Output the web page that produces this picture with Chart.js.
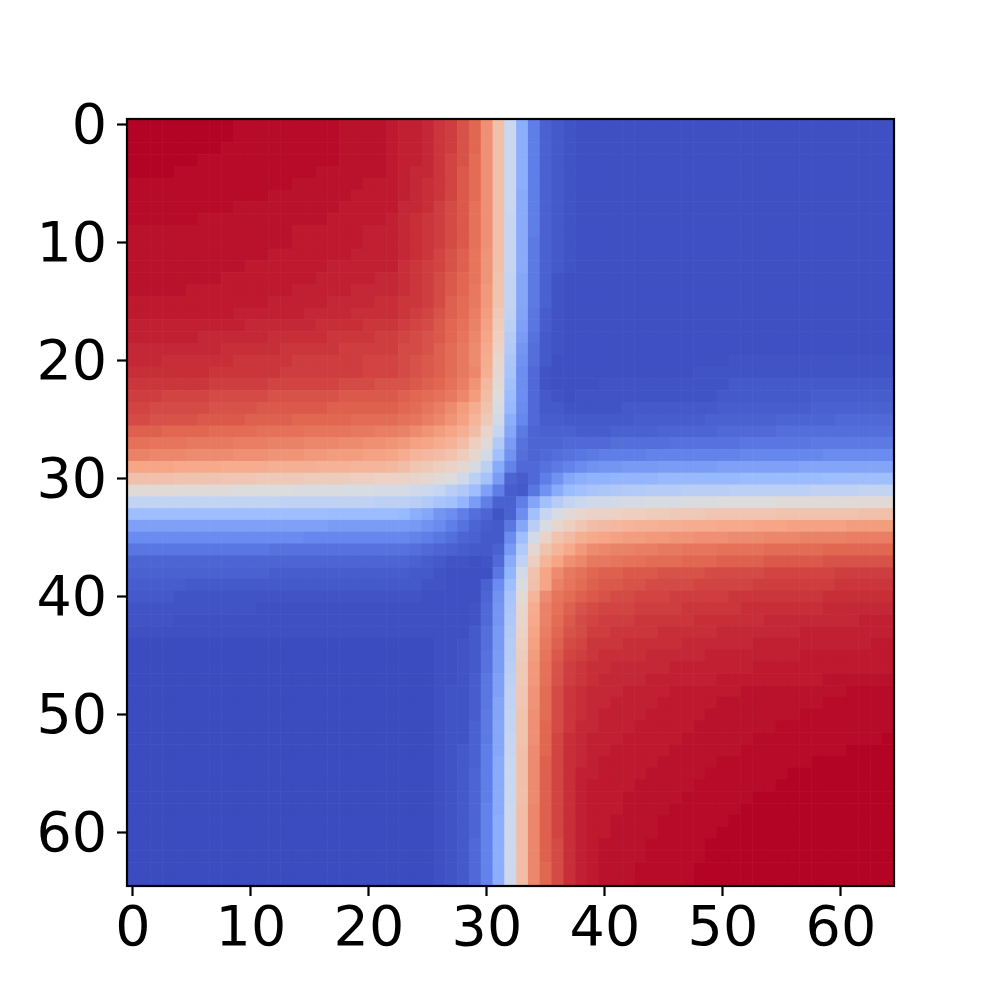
<!DOCTYPE html>
<html>
<head>
<meta charset="utf-8">
<title>Heatmap</title>
<script src="https://cdn.jsdelivr.net/npm/chart.js@4/dist/chart.umd.min.js"></script>
<style>
  html, body { margin: 0; padding: 0; background: #ffffff; }
  canvas { display: block; }
</style>
</head>
<body>
<canvas id="heatmap" width="996" height="996"></canvas>
<script>
// tick positions for both axes
const tickValues = [0, 10, 20, 30, 40, 50, 60];

// cell values, 0 = coldest, 100 = hottest. one line per row
const cellRows = [
[100,100,100,100,100,100,100,100,100,99,99,99,99,99,99,99,99,99,98,98,98,98,97,96,96,95,93,92,89,86,77,63,43,25,12,5,3,2,1,1,1,1,1,1,1,1,1,1,1,1,1,1,1,1,1,1,1,1,1,1,1,1,1,1,1],
[100,100,100,100,100,100,100,100,100,99,99,99,99,99,99,99,99,99,98,98,98,98,97,96,96,95,93,92,89,86,77,63,43,25,12,5,3,2,1,1,1,1,1,1,1,1,1,1,1,1,1,1,1,1,1,1,1,1,1,1,1,1,1,1,1],
[100,100,100,100,100,100,100,100,99,99,99,99,99,99,99,99,99,99,98,98,98,98,97,96,96,95,93,92,89,86,77,63,43,25,12,5,3,2,1,1,1,1,1,1,1,1,1,1,1,1,1,1,1,1,1,1,1,1,1,1,1,1,1,1,1],
[100,100,100,100,100,100,99,99,99,99,99,99,99,99,99,99,99,99,98,98,98,98,97,96,96,95,93,91,89,85,77,63,43,25,12,5,3,2,1,1,1,1,1,1,1,1,1,1,1,1,1,1,1,1,1,1,1,1,1,1,1,1,1,1,1],
[100,100,100,100,99,99,99,99,99,99,99,99,99,99,99,99,98,98,98,98,98,98,97,96,95,95,93,91,88,85,77,63,43,25,12,5,3,2,1,1,1,1,1,1,1,1,1,1,1,1,1,1,1,1,1,1,1,1,1,1,1,1,1,1,1],
[99,99,99,99,99,99,99,99,99,99,99,99,99,99,98,98,98,98,98,98,97,97,97,96,95,94,93,91,88,85,77,63,43,25,12,5,3,2,1,1,1,1,1,1,1,1,1,1,1,1,1,1,1,1,1,1,1,1,1,1,1,1,1,1,1],
[99,99,99,99,99,99,99,99,99,99,99,99,98,98,98,98,98,98,98,97,97,97,97,96,95,94,93,91,88,85,77,63,43,24,12,5,3,2,1,1,1,1,1,1,1,1,1,1,1,1,1,1,1,1,1,1,1,1,1,1,1,1,1,1,1],
[99,99,99,99,99,99,99,99,99,98,98,98,98,98,98,98,98,98,97,97,97,97,97,95,95,94,92,90,88,84,77,63,43,24,12,5,3,2,1,1,1,1,1,1,1,1,1,1,1,1,1,1,1,1,1,1,1,1,1,1,1,1,1,1,1],
[99,99,99,99,99,99,98,98,98,98,98,98,98,98,98,98,98,97,97,97,97,97,96,95,94,93,92,90,88,84,77,63,42,24,12,5,3,2,1,1,1,1,1,1,1,1,1,1,1,1,1,1,1,1,1,1,1,1,1,1,1,1,1,1,1],
[98,98,98,98,98,98,98,98,98,98,98,98,98,98,97,97,97,97,97,97,96,96,96,95,94,93,92,90,88,84,77,63,42,24,12,5,3,2,1,1,1,1,1,1,1,1,1,1,1,1,1,1,1,1,1,1,1,1,1,1,1,1,1,1,1],
[98,98,98,98,98,98,98,98,98,98,98,98,98,98,97,97,97,97,97,97,96,96,96,95,94,93,92,90,88,84,77,63,42,24,11,5,3,2,1,1,1,1,1,1,1,1,1,1,1,1,1,1,1,1,1,1,1,1,1,1,1,1,1,1,1],
[98,98,98,98,98,98,98,98,98,98,98,98,97,97,97,97,97,97,97,96,96,96,96,95,94,93,91,89,87,83,76,63,42,24,11,5,3,2,1,1,1,1,1,1,1,1,1,1,1,1,1,1,1,1,1,1,1,1,1,1,1,1,1,1,1],
[98,98,98,98,98,98,98,98,98,98,97,97,97,97,97,97,97,96,96,96,96,96,96,94,93,92,91,89,87,83,76,63,42,24,11,5,3,2,1,1,1,1,1,1,1,1,1,1,1,1,1,1,1,1,1,1,1,1,1,1,1,1,1,1,1],
[98,98,98,98,98,98,98,98,97,97,97,97,97,97,97,97,96,96,96,96,96,95,95,94,93,92,90,88,86,83,76,62,41,23,11,5,2,1,1,1,1,1,1,1,1,1,1,1,1,1,1,1,1,1,1,1,1,1,1,1,1,1,1,1,1],
[98,98,98,98,98,97,97,97,97,97,97,97,97,97,96,96,96,96,96,95,95,95,95,94,93,92,90,88,86,82,75,62,41,23,11,5,2,1,1,1,1,1,1,1,1,1,1,1,1,1,1,1,1,1,1,1,1,1,1,1,1,1,1,1,1],
[97,97,97,97,97,97,97,97,97,97,97,97,96,96,96,96,96,95,95,95,95,94,94,93,93,92,90,87,85,82,75,62,41,23,11,5,2,1,1,1,1,1,1,1,1,1,1,1,1,1,1,1,1,1,1,1,1,1,1,1,1,1,1,1,1],
[97,97,97,97,97,97,97,97,97,96,96,96,96,96,96,95,95,95,95,94,94,94,94,93,92,91,89,87,85,81,74,60,40,22,10,4,2,1,1,1,1,1,1,1,1,1,1,1,1,1,1,1,1,1,1,1,1,1,1,1,1,1,1,1,1],
[96,96,96,96,96,96,96,96,96,96,95,95,95,95,95,95,94,94,94,94,93,93,93,92,91,90,88,86,84,80,73,59,39,21,10,4,2,1,1,1,1,1,1,1,1,1,1,1,1,1,1,1,1,1,1,1,1,1,1,1,1,1,1,1,1],
[96,96,96,96,96,96,95,95,95,95,95,95,94,94,94,94,94,93,93,93,93,92,92,91,90,89,88,86,83,79,72,58,37,20,9,3,2,1,1,1,1,1,1,1,1,1,1,1,1,1,1,1,1,1,1,1,1,1,1,1,1,1,1,1,1],
[95,95,95,95,95,95,95,95,94,94,94,94,94,93,93,93,93,93,92,92,92,92,92,90,90,89,87,85,82,78,71,56,36,18,8,3,2,1,1,1,1,1,1,1,1,1,1,1,1,1,1,1,1,1,1,1,1,1,1,1,1,1,1,1,1],
[95,95,95,94,94,94,94,94,94,93,93,93,93,93,92,92,92,92,92,92,91,91,91,90,89,88,87,85,82,78,70,54,34,17,8,3,1,1,1,1,1,1,1,1,1,1,1,1,1,1,1,2,2,2,2,2,2,2,2,2,2,2,2,2,2],
[94,94,94,94,94,94,94,93,93,93,93,93,93,92,92,92,92,92,92,92,91,91,91,90,89,88,87,85,82,79,69,53,33,16,7,2,1,1,1,1,1,1,1,1,1,1,1,1,2,2,2,2,2,2,2,2,2,2,2,2,2,2,2,2,2],
[93,93,93,93,93,93,93,92,92,92,92,92,91,91,91,91,91,91,90,90,90,89,89,89,88,87,86,84,81,76,66,52,31,16,7,2,1,1,1,1,2,2,2,2,2,2,2,2,2,2,2,3,3,3,3,3,3,3,3,3,3,3,3,3,3],
[92,92,92,91,91,91,91,90,90,90,90,90,89,89,89,89,89,89,88,88,88,88,88,87,86,85,84,82,79,74,64,50,29,16,7,3,2,1,2,2,2,2,2,2,2,2,2,2,2,2,3,3,3,3,3,3,3,3,4,4,4,4,4,4,4],
[91,91,90,90,90,90,90,89,89,89,89,88,88,88,88,88,88,87,87,87,87,87,87,86,85,83,81,78,74,70,62,48,28,15,7,3,3,2,2,2,2,2,3,3,3,3,3,3,3,3,4,4,4,4,4,4,4,4,5,5,5,5,5,5,5],
[90,90,89,89,89,89,88,88,88,88,87,87,87,87,86,86,86,86,86,85,85,85,85,84,83,81,79,76,73,67,60,46,25,14,7,4,4,3,3,3,3,3,3,4,4,4,4,4,4,5,5,5,5,5,5,6,6,6,6,6,7,7,7,7,7],
[87,87,87,86,86,86,86,85,85,85,85,84,84,84,84,83,83,83,83,82,82,81,81,80,78,76,74,72,69,64,55,42,23,11,6,5,5,5,4,4,4,5,5,5,5,6,6,6,6,6,7,7,7,7,7,8,8,8,8,8,8,8,8,8,8],
[84,84,83,83,83,82,82,82,82,81,81,81,80,80,80,79,79,79,78,78,77,77,76,75,73,72,70,68,64,58,51,36,20,9,6,6,6,7,7,7,7,8,8,8,8,8,9,9,9,9,9,9,10,10,10,10,10,10,11,11,11,11,11,11,11],
[80,80,79,79,79,78,78,78,78,77,77,77,76,76,76,75,75,74,74,74,73,73,72,70,67,66,64,62,59,54,46,31,17,8,6,7,8,9,10,11,12,12,12,12,13,13,13,13,13,13,13,13,14,14,14,14,14,14,14,15,15,15,15,15,15],
[72,72,72,72,71,71,71,71,70,70,70,70,69,69,69,69,68,68,68,67,67,67,66,64,61,60,58,56,53,47,39,24,13,7,7,9,11,13,15,17,18,18,19,19,19,20,20,20,20,20,21,21,21,21,21,21,21,22,22,22,22,22,22,22,22],
[63,63,63,63,62,62,62,62,61,61,61,60,60,60,60,59,59,59,59,58,58,57,57,56,55,54,52,50,45,39,32,20,6,4,7,12,17,23,25,26,26,27,27,27,27,28,28,28,28,28,28,28,29,29,29,29,29,29,29,30,30,30,30,30,30],
[52,52,52,52,51,51,51,51,51,50,50,50,50,50,49,49,49,49,48,48,48,47,47,47,45,44,42,38,35,30,21,12,4,3,10,17,24,29,31,33,34,35,36,36,37,37,37,38,38,38,38,39,39,39,39,39,39,39,40,40,40,40,41,41,41],
[41,41,41,41,41,41,41,41,41,41,41,41,41,40,40,40,40,40,40,40,40,39,39,39,38,36,33,31,27,20,12,5,5,12,22,31,37,41,43,45,45,46,47,47,48,48,48,49,49,49,50,50,50,50,50,51,51,51,51,51,51,52,52,52,52],
[30,30,30,30,30,30,30,30,30,30,30,30,30,30,30,30,30,29,29,29,29,29,29,28,25,23,18,16,12,8,6,2,5,16,31,42,48,52,54,56,56,57,58,58,59,59,60,60,60,61,61,61,61,61,61,62,62,62,62,62,62,62,63,63,63],
[21,21,21,21,21,21,21,21,21,21,21,21,21,21,21,21,21,20,20,20,20,20,20,20,19,17,15,12,9,6,4,3,10,23,38,48,54,58,61,64,65,66,67,68,68,69,69,70,70,70,71,71,71,72,72,72,73,73,73,73,73,74,74,74,74],
[15,15,15,15,15,15,15,15,15,15,15,15,15,15,15,14,14,14,14,14,14,14,14,14,13,12,10,8,6,5,3,3,15,30,46,56,62,65,69,71,72,73,74,74,75,75,76,76,77,77,77,78,78,78,79,79,79,80,80,80,80,81,81,81,81],
[10,10,10,10,10,10,10,10,10,10,10,10,9,9,9,9,9,9,9,9,9,9,9,9,8,7,6,5,4,3,3,5,19,36,53,62,67,71,75,78,79,80,80,81,81,82,82,83,83,83,84,84,84,84,85,85,85,85,85,86,86,86,86,86,86],
[6,6,6,6,6,6,6,6,6,6,6,6,6,6,6,6,6,6,6,6,6,6,6,6,5,4,3,2,2,1,2,7,24,40,58,67,72,77,79,82,82,83,84,84,85,85,85,86,86,86,87,87,87,87,88,88,88,88,88,89,89,89,89,89,89],
[5,5,5,5,5,5,5,5,5,5,5,5,4,4,4,4,4,4,4,4,4,4,4,4,3,3,2,1,1,1,1,10,27,46,62,72,78,82,84,86,87,87,88,88,88,89,89,89,89,90,90,90,90,90,91,91,91,91,91,91,92,92,92,92,92],
[4,4,4,4,4,3,3,3,3,3,3,3,3,3,3,3,3,3,3,3,3,3,3,3,3,2,2,1,1,1,5,15,30,49,63,72,80,83,85,87,88,88,89,89,90,90,90,90,91,91,91,91,91,92,92,92,92,92,92,92,93,93,93,93,93],
[3,3,3,3,2,2,2,2,2,2,2,2,2,2,2,2,2,2,2,2,2,2,2,2,2,1,1,1,1,1,6,17,33,52,67,78,83,85,87,88,89,90,90,91,91,91,92,92,92,92,92,93,93,93,93,93,93,93,93,94,94,94,94,94,94],
[2,2,2,2,2,2,2,2,2,2,2,1,1,1,1,1,1,1,1,1,1,1,1,1,1,1,1,1,1,2,7,18,34,54,70,80,84,87,89,90,91,91,91,92,92,92,92,93,93,93,93,93,94,94,94,94,94,94,94,95,95,95,95,95,95],
[2,2,2,2,1,1,1,1,1,1,1,1,1,1,1,1,1,1,1,1,1,1,1,1,1,1,1,1,1,2,7,18,35,55,71,80,85,88,90,91,92,92,92,93,93,93,93,93,94,94,94,94,94,94,95,95,95,95,95,95,95,95,96,96,96],
[1,1,1,1,1,1,1,1,1,1,1,1,1,1,1,1,1,1,1,1,1,1,1,1,1,1,1,1,1,3,8,19,36,56,72,81,86,89,90,92,92,93,93,93,93,94,94,94,94,94,95,95,95,95,95,95,95,96,96,96,96,96,96,96,96],
[0,0,0,0,0,0,0,0,0,0,0,0,0,0,0,0,0,0,0,0,0,0,0,0,0,0,1,1,2,3,8,19,37,58,73,82,87,90,91,93,93,93,94,94,94,94,94,95,95,95,95,95,95,96,96,96,96,96,96,96,96,96,96,97,97],
[0,0,0,0,0,0,0,0,0,0,0,0,0,0,0,0,0,0,0,0,0,0,0,0,0,0,1,1,2,3,9,20,37,59,74,83,88,91,92,93,94,94,94,94,95,95,95,95,95,96,96,96,96,96,96,96,96,97,97,97,97,97,97,97,97],
[0,0,0,0,0,0,0,0,0,0,0,0,0,0,0,0,0,0,0,0,0,0,0,0,0,0,1,1,2,3,9,20,38,60,75,84,89,92,93,94,94,95,95,95,95,95,96,96,96,96,96,96,96,97,97,97,97,97,97,97,97,97,97,97,97],
[0,0,0,0,0,0,0,0,0,0,0,0,0,0,0,0,0,0,0,0,0,0,0,0,0,0,1,1,2,4,10,21,39,60,75,84,89,92,93,94,95,95,95,95,96,96,96,96,96,96,97,97,97,97,97,97,97,97,97,98,98,98,98,98,98],
[0,0,0,0,0,0,0,0,0,0,0,0,0,0,0,0,0,0,0,0,0,0,0,0,0,0,1,2,2,4,10,21,40,61,76,85,90,93,94,95,95,95,96,96,96,96,97,97,97,97,97,97,98,98,98,98,98,98,98,98,98,99,99,99,99],
[0,0,0,0,0,0,0,0,0,0,0,0,0,0,0,0,0,0,0,0,0,0,0,0,0,0,1,2,2,4,10,22,40,61,76,85,90,93,94,95,95,96,96,96,96,97,97,97,97,97,98,98,98,98,98,98,98,98,98,99,99,99,99,99,99],
[0,0,0,0,0,0,0,0,0,0,0,0,0,0,0,0,0,0,0,0,0,0,0,0,0,0,1,2,2,4,11,22,41,62,77,85,90,93,94,95,96,96,96,96,97,97,97,97,97,98,98,98,98,98,98,98,98,99,99,99,99,99,99,99,99],
[0,0,0,0,0,0,0,0,0,0,0,0,0,0,0,0,0,0,0,0,0,0,0,0,0,0,1,2,2,5,11,23,41,62,77,86,90,93,95,95,96,96,96,97,97,97,97,97,98,98,98,98,98,98,98,99,99,99,99,99,99,99,99,99,99],
[0,0,0,0,0,0,0,0,0,0,0,0,0,0,0,0,0,0,0,0,0,0,0,0,0,0,1,2,2,5,11,23,42,62,77,86,91,94,95,96,96,96,97,97,97,97,97,98,98,98,98,98,98,99,99,99,99,99,99,99,99,99,99,99,100],
[0,0,0,0,0,0,0,0,0,0,0,0,0,0,0,0,0,0,0,0,0,0,0,0,0,0,1,2,3,5,12,23,42,63,78,86,91,94,95,96,96,97,97,97,97,97,98,98,98,98,98,98,99,99,99,99,99,99,99,99,99,100,100,100,100],
[0,0,0,0,0,0,0,0,0,0,0,0,0,0,0,0,0,0,0,0,0,0,0,0,0,0,1,2,3,5,12,24,43,63,78,87,91,94,95,96,97,97,97,97,97,98,98,98,98,98,99,99,99,99,99,99,99,99,100,100,100,100,100,100,100],
[0,0,0,0,0,0,0,0,0,0,0,0,0,0,0,0,0,0,0,0,0,0,0,0,0,0,1,2,3,6,12,24,43,63,78,87,91,94,96,96,97,97,97,97,98,98,98,98,98,99,99,99,99,99,99,99,100,100,100,100,100,100,100,100,100],
[0,0,0,0,0,0,0,0,0,0,0,0,0,0,0,0,0,0,0,0,0,0,0,0,0,0,1,2,3,6,12,24,43,63,78,87,91,94,96,97,97,97,97,98,98,98,98,98,99,99,99,99,99,99,99,100,100,100,100,100,100,100,100,100,100],
[0,0,0,0,0,0,0,0,0,0,0,0,0,0,0,0,0,0,0,0,0,0,0,0,0,0,1,2,3,6,12,24,43,63,78,87,91,94,96,97,97,97,98,98,98,98,98,99,99,99,99,99,99,100,100,100,100,100,100,100,100,100,100,100,100],
[0,0,0,0,0,0,0,0,0,0,0,0,0,0,0,0,0,0,0,0,0,0,0,0,0,0,1,2,3,6,13,24,44,64,79,87,91,94,96,97,97,97,98,98,98,98,99,99,99,99,99,99,100,100,100,100,100,100,100,100,100,100,100,100,100],
[0,0,0,0,0,0,0,0,0,0,0,0,0,0,0,0,0,0,0,0,0,0,0,0,0,0,1,2,3,6,13,25,44,64,79,87,91,94,96,97,97,98,98,98,98,99,99,99,99,99,99,100,100,100,100,100,100,100,100,100,100,100,100,100,100],
[0,0,0,0,0,0,0,0,0,0,0,0,0,0,0,0,0,0,0,0,0,0,0,0,0,0,1,2,3,6,13,25,44,64,79,87,91,94,96,97,97,98,98,98,98,99,99,99,99,99,100,100,100,100,100,100,100,100,100,100,100,100,100,100,100],
[0,0,0,0,0,0,0,0,0,0,0,0,0,0,0,0,0,0,0,0,0,0,0,0,0,0,1,2,3,7,13,25,44,64,79,87,90,94,96,97,98,98,98,98,99,99,99,99,99,100,100,100,100,100,100,100,100,100,100,100,100,100,100,100,100],
[0,0,0,0,0,0,0,0,0,0,0,0,0,0,0,0,0,0,0,0,0,0,0,0,0,0,1,2,3,7,13,25,44,64,79,87,90,94,96,97,98,98,98,98,99,99,99,99,99,100,100,100,100,100,100,100,100,100,100,100,100,100,100,100,100],
[0,0,0,0,0,0,0,0,0,0,0,0,0,0,0,0,0,0,0,0,0,0,0,0,0,0,1,2,3,7,13,25,44,64,79,86,90,94,96,97,98,98,98,99,99,99,99,99,100,100,100,100,100,100,100,100,100,100,100,100,100,100,100,100,100],
[0,0,0,0,0,0,0,0,0,0,0,0,0,0,0,0,0,0,0,0,0,0,0,0,0,0,1,2,3,7,13,25,44,64,79,86,90,94,96,97,98,98,98,99,99,99,99,99,100,100,100,100,100,100,100,100,100,100,100,100,100,100,100,100,100]
];

// coolwarm colormap stops
const colorStops = [
  [0, 59, 76, 192], [1 / 7, 103, 136, 238], [2 / 7, 154, 187, 255], [3 / 7, 201, 215, 240],
  [0.5, 221, 220, 220], [4 / 7, 237, 209, 194], [5 / 7, 247, 168, 137], [6 / 7, 226, 105, 82],
  [1, 180, 4, 38]
];

function cellColor(value) {
  const t = value / 100;
  let i = 0;
  while (i < colorStops.length - 2 && t > colorStops[i + 1][0]) i++;
  const a = colorStops[i];
  const b = colorStops[i + 1];
  const f = (t - a[0]) / (b[0] - a[0]);
  const ch = k => Math.round(a[k] + (b[k] - a[k]) * f);
  return `rgb(${ch(1)}, ${ch(2)}, ${ch(3)})`;
}

const cells = [];
cellRows.forEach((row, r) => {
  row.forEach((v, c) => cells.push({ x: c, y: r, v }));
});

// black frame round the plot area, on top of the cells
const spinePlugin = {
  id: 'spines',
  afterDatasetsDraw(chart) {
    const { ctx, chartArea: a } = chart;
    ctx.save();
    ctx.strokeStyle = '#000000';
    ctx.lineWidth = 2.2;
    ctx.strokeRect(a.left, a.top, a.right - a.left, a.bottom - a.top);
    ctx.restore();
  }
};

const tickOptions = {
  autoSkip: false,
  maxRotation: 0,
  color: '#000000',
  font: { family: '"DejaVu Sans"', size: 55.5 }
};
const gridOptions = {
  drawOnChartArea: false,
  drawTicks: true,
  tickLength: 10,
  tickWidth: 2.2,
  tickColor: '#000000'
};
const setTicks = axis => { axis.ticks = tickValues.map(value => ({ value })); };

new Chart(document.getElementById('heatmap'), {
  type: 'scatter',
  data: {
    datasets: [{
      data: cells,
      pointStyle: 'rect',
      pointRadius: 8.75,
      pointBorderWidth: 0,
      pointHoverRadius: 8.75,
      backgroundColor: ctx => cellColor(ctx.raw.v),
      clip: 0
    }]
  },
  options: {
    responsive: false,
    animation: false,
    events: [],
    layout: { padding: { top: 119, right: 102, left: 0, bottom: 0 } },
    plugins: { legend: { display: false }, tooltip: { enabled: false } },
    scales: {
      x: {
        type: 'linear',
        min: -0.5,
        max: 64.5,
        afterBuildTicks: setTicks,
        afterFit: axis => { axis.height = 110; },
        border: { display: false },
        grid: gridOptions,
        ticks: { ...tickOptions, padding: 1 }
      },
      y: {
        type: 'linear',
        reverse: true,
        min: -0.5,
        max: 64.5,
        afterBuildTicks: setTicks,
        afterFit: axis => { axis.width = 127; },
        border: { display: false },
        grid: gridOptions,
        ticks: { ...tickOptions, padding: 10, labelOffset: 4 }
      }
    }
  },
  plugins: [spinePlugin]
});
</script>
</body>
</html>
